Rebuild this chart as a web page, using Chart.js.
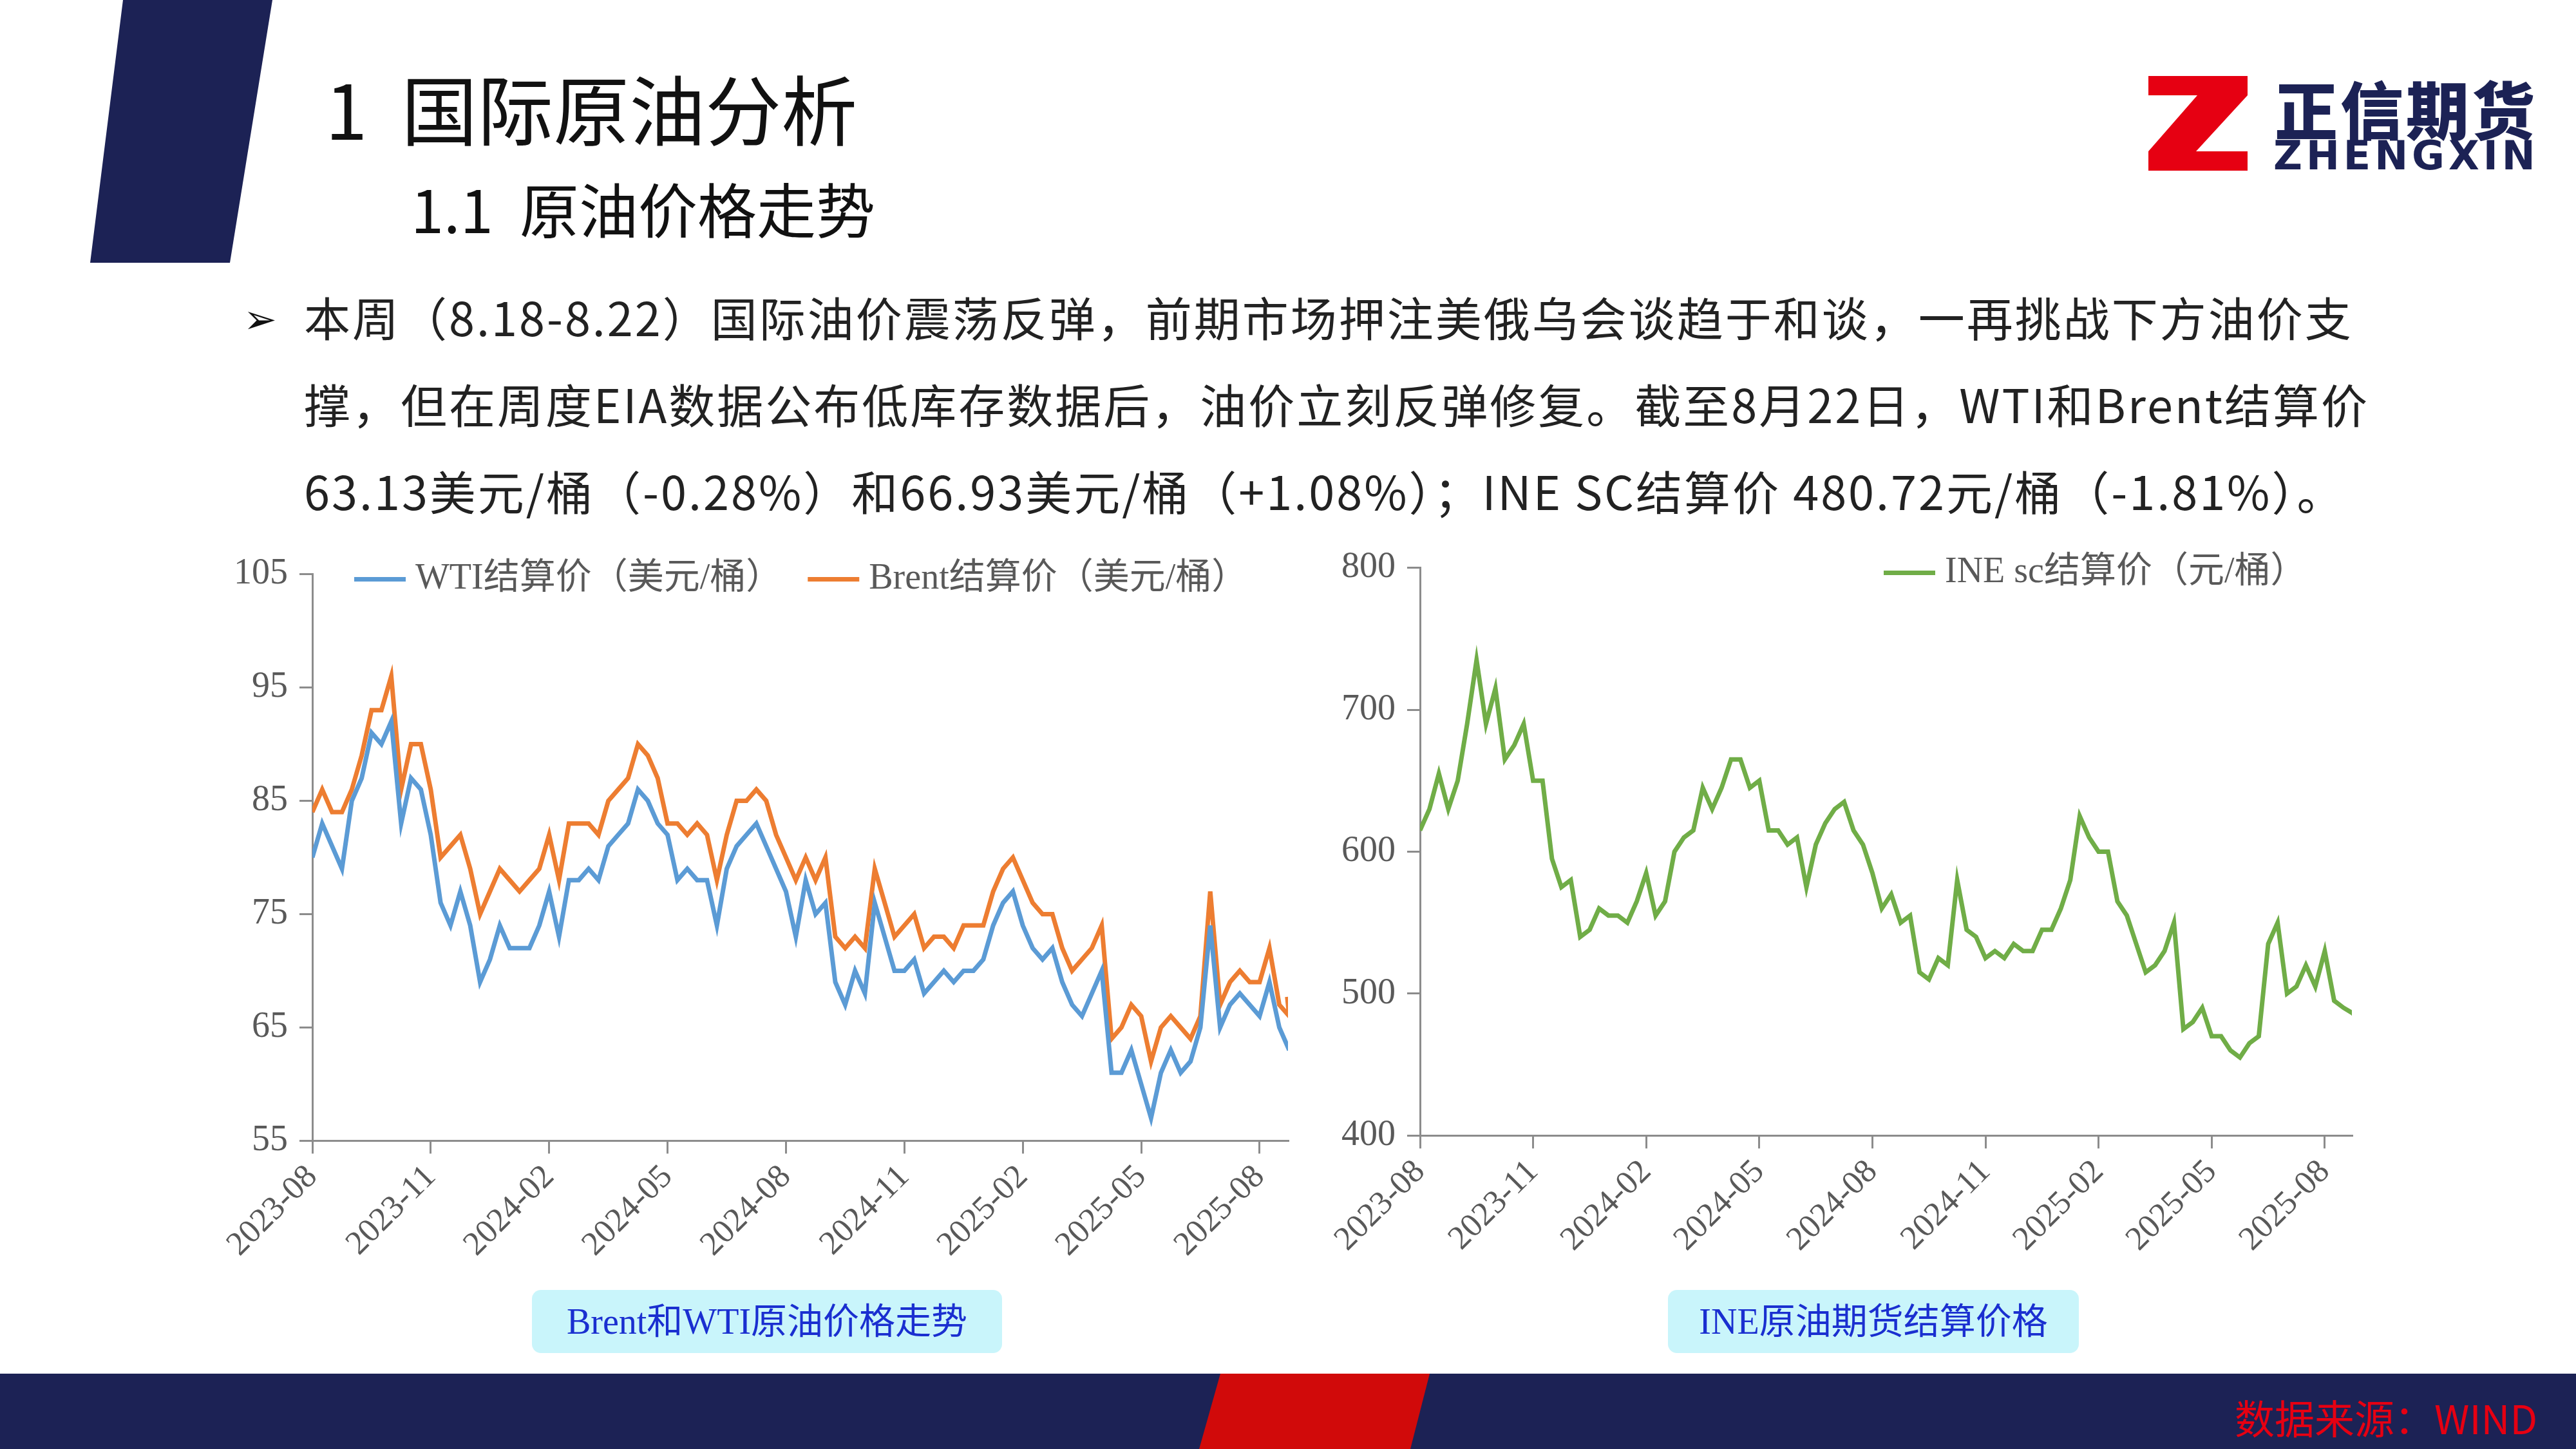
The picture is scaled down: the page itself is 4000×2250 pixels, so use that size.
<!DOCTYPE html>
<html><head><meta charset="utf-8">
<script src="https://cdn.jsdelivr.net/npm/chart.js@4.4.1/dist/chart.umd.min.js"></script>
<style>
html,body{margin:0;padding:0;width:4000px;height:2250px;background:#fff;overflow:hidden;font-family:"Noto Sans CJK SC",sans-serif;}
.abs{position:absolute;}
#t1{left:505px;top:80px;font-size:118px;color:#111;white-space:nowrap;}
#t2{left:638px;top:255px;font-size:92px;color:#111;white-space:nowrap;}
.body{left:472px;font-size:72px;color:#222;white-space:nowrap;letter-spacing:3px;}
.cap{background:#c9f5fb;border-radius:14px;color:#1a2fd0;font-size:56px;text-align:center;line-height:98px;height:98px;font-family:"Liberation Serif","Noto Sans CJK SC",serif;}
</style></head><body>
<svg class="abs" style="left:0;top:0" width="4000" height="2250">
<polygon points="191,0 423,0 357,408 140,408" fill="#1c2255"/>
<polygon points="0,2133 4000,2133 4000,2250 0,2250" fill="#1c2255"/>
<polygon points="1895,2133 2220,2133 2190,2250 1862,2250" fill="#d10a0a"/>
<polygon points="3336,118 3490,118 3490,148 3410,235 3490,235 3490,265 3336,265 3336,235 3412,148 3336,148" fill="#e60012"/>
</svg>
<div class="abs" id="t1">1&nbsp;&nbsp;国际原油分析</div>
<div class="abs" id="t2">1.1&nbsp;&nbsp;原油价格走势</div>
<div class="abs" style="left:3532px;top:95px;font-size:98px;font-weight:900;color:#1c2255;letter-spacing:4px;">正信期货</div>
<div class="abs" style="left:3530px;top:205px;font-size:62px;font-weight:900;color:#1c2255;letter-spacing:6px;font-family:'DejaVu Sans';">ZHENGXIN</div>
<div class="abs" style="left:378px;top:445px;font-size:62px;color:#111;">➢</div>
<div class="abs body" style="top:438px;">本周（8.18-8.22）国际油价震荡反弹，前期市场押注美俄乌会谈趋于和谈，一再挑战下方油价支</div>
<div class="abs body" style="top:573px;">撑，但在周度EIA数据公布低库存数据后，油价立刻反弹修复。截至8月22日，WTI和Brent结算价</div>
<div class="abs body" style="top:708px;">63.13美元/桶（-0.28%）和66.93美元/桶（+1.08%）；INE SC结算价 480.72元/桶（-1.81%）。</div>
<div class="abs" style="left:345px;top:840px;width:1675px;height:1130px;"><canvas id="c1"></canvas></div>
<div class="abs" style="left:2065px;top:830px;width:1607px;height:1132px;"><canvas id="c2"></canvas></div>
<div class="abs cap" style="left:826px;top:2003px;width:730px;">Brent和WTI原油价格走势</div>
<div class="abs cap" style="left:2590px;top:2003px;width:638px;">INE原油期货结算价格</div>
<div class="abs" style="left:3470px;top:2155px;font-size:62px;color:#e60012;white-space:nowrap;font-family:'Noto Sans CJK SC';">数据来源：WIND</div>
<script>
const tickLabels = ["2023-08","2023-11","2024-02","2024-05","2024-08","2024-11","2025-02","2025-05","2025-08"];
const wti = [80,83,81,79,85,87,91,90,92,83,87,86,82,76,74,77,74,69,71,74,72,72,72,74,77,73,78,78,79,78,81,82,83,86,85,83,82,78,79,78,78,74,79,81,82,83,81,79,77,73,78,75,76,69,67,70,68,76,73,70,70,71,68,69,70,69,70,70,71,74,76,77,74,72,71,72,69,67,66,68,70,61,61,63,60,57,61,63,61,62,65,74,65,67,68,67,66,69,65,63,63.5];
const brent = [84,86,84,84,86,89,93,93,96,86,90,90,86,80,81,82,79,75,77,79,78,77,78,79,82,78,83,83,83,82,85,86,87,90,89,87,83,83,82,83,82,78,82,85,85,86,85,82,80,78,80,78,80,73,72,73,72,79,76,73,74,75,72,73,73,72,74,74,74,77,79,80,78,76,75,75,72,70,71,72,74,64,65,67,66,62,65,66,65,64,66,77,67,69,70,69,69,72,67,66,67.7];
const ine = [615,630,655,630,650,690,735,690,715,665,675,690,650,650,595,575,580,540,545,560,555,555,550,565,585,555,565,600,610,615,645,630,645,665,665,645,650,615,615,605,610,575,605,620,630,635,615,605,585,560,570,550,555,515,510,525,520,580,545,540,525,530,525,535,530,530,545,545,560,580,625,610,600,600,565,555,535,515,520,530,550,475,480,490,470,470,460,455,465,470,535,550,500,505,520,505,530,495,490,486,485];
const xs = n => Array.from({length:n},(_,i)=> i===n-1 ? 24.7 : i*0.25);
const pts = a => { const x = xs(a.length); return a.map((v,i)=>({x:x[i],y:v})); };
const gray = '#8c8c8c';
const tickFont = {family:'"Liberation Serif", serif', size:52};
function xAxis(){ return {type:'linear',min:0,max:24.72,
  afterBuildTicks: ax => { ax.ticks = tickLabels.map((_,i)=>({value:i*3})); },
  ticks:{autoSkip:false,maxRotation:45,minRotation:45,color:'#595959',font:tickFont,padding:6,
    callback:v=> tickLabels[Math.round(v/3)] ?? ''},
  grid:{drawOnChartArea:false,tickLength:20,color:gray,lineWidth:3},border:{color:gray,width:3}}; }
function yAxis(min,max,step){ return {min,max,ticks:{stepSize:step,color:'#595959',font:{family:'"Liberation Serif", serif',size:56},padding:18},
  grid:{drawOnChartArea:false,tickLength:20,color:gray,lineWidth:3},border:{color:gray,width:3}}; }
const legendPlugin = {id:'lg', afterDraw(chart, args, opts){
  const ctx = chart.ctx, a = chart.chartArea;
  ctx.save();
  ctx.font = '56px "Liberation Serif","Noto Sans CJK SC", serif';
  ctx.textBaseline = 'middle';
  let x = a.left + opts.offset; const y = a.top + 8;
  chart.data.datasets.forEach(ds=>{
    ctx.strokeStyle = ds.borderColor; ctx.lineWidth = 7;
    ctx.beginPath(); ctx.moveTo(x, y); ctx.lineTo(x+80, y); ctx.stroke();
    ctx.fillStyle = '#595959'; ctx.fillText(ds.label, x+95, y);
    x += 95 + ctx.measureText(ds.label).width + 40;
  });
  ctx.restore();
}};
Chart.defaults.animation=false;
new Chart(document.getElementById('c1'),{type:'line',plugins:[legendPlugin],
 data:{datasets:[
  {label:'WTI结算价（美元/桶）',data:pts(wti),borderColor:'#5b9bd5',backgroundColor:'#5b9bd5',borderWidth:7,pointRadius:0,tension:0},
  {label:'Brent结算价（美元/桶）',data:pts(brent),borderColor:'#ed7d31',backgroundColor:'#ed7d31',borderWidth:7,pointRadius:0,tension:0}]},
 options:{responsive:true,maintainAspectRatio:false,layout:{padding:{top:35,right:20}},
  plugins:{legend:{display:false},tooltip:{enabled:false},lg:{offset:65}},
  scales:{x:xAxis(),y:yAxis(55,105,10)}}});
new Chart(document.getElementById('c2'),{type:'line',plugins:[legendPlugin],
 data:{datasets:[
  {label:'INE sc结算价（元/桶）',data:pts(ine),borderColor:'#70ad47',backgroundColor:'#70ad47',borderWidth:7,pointRadius:0,tension:0}]},
 options:{responsive:true,maintainAspectRatio:false,layout:{padding:{top:45,right:20}},
  plugins:{legend:{display:false},tooltip:{enabled:false},lg:{offset:720}},
  scales:{x:xAxis(),y:yAxis(400,800,100)}}});
</script>
</body></html>
